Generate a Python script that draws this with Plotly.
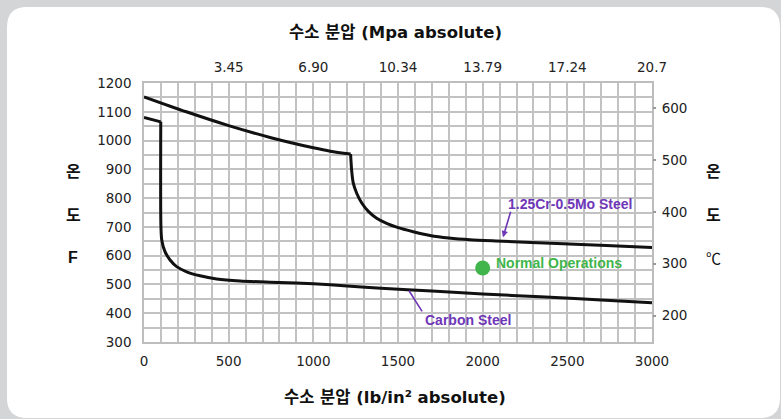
import plotly.graph_objects as go

# ---------------- data ----------------
psi_crmo = [0, 250, 500, 750, 1000, 1100, 1220, 1227, 1236, 1256, 1286, 1325, 1374,
            1433, 1492, 1590, 1689, 1800, 1925, 2120, 2440, 2730, 3000]
temp_crmo = [1152, 1100, 1052, 1010, 975, 963, 953, 892, 852, 817, 783, 754, 730,
             712, 699, 683, 670, 661, 655, 650, 642, 635, 628]

psi_cs = [0, 99, 100, 105, 124, 154, 193, 252, 331, 429, 567, 800, 1000, 1200,
          1400, 1700, 2000, 2340, 2700, 3000]
temp_cs = [1080, 1065, 701, 654, 614, 585, 562, 544, 530, 519, 512, 507, 502, 495,
           487, 477, 467, 457, 446, 436]

normal_psi = [2000]
normal_temp = [557]

psi_ticks = [0, 500, 1000, 1500, 2000, 2500, 3000]
mpa_tickvals = [500, 1000, 1500, 2000, 2500, 3000]
mpa_ticktext = ["3.45", "6.90", "10.34", "13.79", "17.24", "20.7"]
f_ticks = [300, 400, 500, 600, 700, 800, 900, 1000, 1100, 1200]
c_ticks = [200, 300, 400, 500, 600]

# ---------------- layout helpers ----------------
W, H = 781, 419
PL, PR, PT, PB = 144, 652, 83, 342


def pxx(x):
    return (x - PL) / (PR - PL)


def pyy(y):
    return (PB - y) / (PB - PT)


FONT = "Liberation Sans, Arial, Noto Sans CJK KR, sans-serif"
TFONT = "DejaVu Sans, Noto Sans CJK KR, sans-serif"
KFONT = "Noto Sans CJK KR, sans-serif"
PURPLE = "#6f36b8"
GREEN = "#3fb54b"
GRID = "#c2c2c2"
TICKFONT = dict(family="DejaVu Sans, sans-serif", size=13.5, color="#222222")

fig = go.Figure()

LINE = dict(color="#111111", width=3)
SMOOTH = dict(color="#111111", width=3, shape="spline", smoothing=0.8)
# Cr-Mo: smooth upper segment, sharp drop, smooth lower knee
fig.add_trace(go.Scatter(x=psi_crmo[:7], y=temp_crmo[:7], mode="lines",
                         line=SMOOTH, showlegend=False, hoverinfo="skip"))
fig.add_trace(go.Scatter(x=psi_crmo[6:], y=temp_crmo[6:], mode="lines",
                         line=SMOOTH, showlegend=False, hoverinfo="skip"))
# Carbon steel
fig.add_trace(go.Scatter(x=psi_cs[:2], y=temp_cs[:2], mode="lines",
                         line=LINE, showlegend=False, hoverinfo="skip"))
fig.add_trace(go.Scatter(x=psi_cs[1:], y=temp_cs[1:], mode="lines",
                         line=SMOOTH, showlegend=False, hoverinfo="skip"))
fig.add_trace(go.Scatter(x=normal_psi, y=normal_temp, mode="markers",
                         marker=dict(color=GREEN, size=15), showlegend=False,
                         hoverinfo="skip"))
fig.add_trace(go.Scatter(x=[None], y=[None], xaxis="x2", yaxis="y2",
                         showlegend=False, hoverinfo="skip"))

# rounded white panel
x0, x1, y0, y1, r = 7, 780, 7, 418, 20
rx, ry = r / (PR - PL), r / (PB - PT)
X0, X1, Y0, Y1 = pxx(x0), pxx(x1), pyy(y0), pyy(y1)
path = (f"M {X0+rx},{Y0} L {X1-rx},{Y0} Q {X1},{Y0} {X1},{Y0-ry} "
        f"L {X1},{Y1+ry} Q {X1},{Y1} {X1-rx},{Y1} L {X0+rx},{Y1} "
        f"Q {X0},{Y1} {X0},{Y1+ry} L {X0},{Y0-ry} Q {X0},{Y0} {X0+rx},{Y0} Z")
fig.add_shape(type="path", path=path, xref="paper", yref="paper",
              fillcolor="white", line=dict(width=0), layer="below")


def txt(x, y, text, font):
    return dict(x=pxx(x), y=pyy(y), xref="paper", yref="paper", text=text,
                showarrow=False, xanchor="center", yanchor="middle", font=font)


ann = []
# axis titles
ann.append(txt(395, 33, "<b>수소 분압 (Mpa absolute)</b>",
               dict(family=TFONT, size=16.5, color="#111")))
ann.append(txt(395, 397, "<b>수소 분압 (lb/in² absolute)</b>",
               dict(family=TFONT, size=16.5, color="#111")))
for t, yy in [("온", 170), ("도", 214)]:
    ann.append(txt(73, yy, f"<b>{t}</b>", dict(family=KFONT, size=16, color="#111")))
    ann.append(txt(713, yy, f"<b>{t}</b>", dict(family=KFONT, size=16, color="#111")))
ann.append(txt(73, 257, "<b>F</b>", dict(family=FONT, size=16, color="#111")))
ann.append(txt(713, 257, "℃", dict(family=KFONT, size=15, color="#111")))

# series labels
ann.append(dict(x=2516, y=780, xref="x", yref="y", text="<b>1.25Cr-0.5Mo Steel</b>",
                showarrow=False, font=dict(family=FONT, size=14, color=PURPLE)))
ann.append(dict(x=2120, y=664, ax=2168, ay=758, xref="x", yref="y", axref="x",
                ayref="y", text="", showarrow=True, arrowhead=2, arrowsize=0.8,
                arrowwidth=1.6, arrowcolor=PURPLE))
ann.append(dict(x=1911, y=376, xref="x", yref="y", text="<b>Carbon Steel</b>",
                showarrow=False, font=dict(family=FONT, size=14, color=PURPLE)))
ann.append(dict(x=1565, y=478, ax=1648, ay=401, xref="x", yref="y", axref="x",
                ayref="y", text="", showarrow=True, arrowhead=0,
                arrowwidth=1.6, arrowcolor=PURPLE))
ann.append(dict(x=2067, y=575, xref="x", yref="y", text="<b>Normal Operations</b>",
                xanchor="left", showarrow=False,
                font=dict(family=FONT, size=14, color=GREEN)))

fig.update_layout(
    width=W, height=H,
    margin=dict(l=PL, r=W - PR, t=PT, b=H - PB, pad=0),
    paper_bgcolor="#d4d5d7",
    plot_bgcolor="white",
    showlegend=False,
    annotations=ann,
    xaxis=dict(range=[0, 3000], tickvals=psi_ticks, showgrid=True,
               gridcolor=GRID, gridwidth=1.5,
               minor=dict(dtick=100, showgrid=True, gridcolor=GRID, gridwidth=1.5),
               showline=True, linecolor="#bdbdbd", linewidth=1.5, mirror=True,
               zeroline=False, tickfont=TICKFONT, ticks="", ticklabelstandoff=6,
               fixedrange=True),
    yaxis=dict(range=[300, 1200], tickvals=f_ticks, showgrid=True,
               gridcolor=GRID, gridwidth=1.5,
               minor=dict(dtick=50, showgrid=True, gridcolor=GRID, gridwidth=1.5),
               showline=True, linecolor="#bdbdbd", linewidth=1.5, mirror=True,
               zeroline=False, tickfont=TICKFONT, ticks="", ticklabelstandoff=8,
               fixedrange=True),
    xaxis2=dict(overlaying="x", side="top", range=[0, 3000],
                tickvals=mpa_tickvals, ticktext=mpa_ticktext, showgrid=False,
                zeroline=False, showline=False, tickfont=TICKFONT, ticks="",
                ticklabelstandoff=7, fixedrange=True),
    yaxis2=dict(overlaying="y", side="right",
                range=[(300 - 32) / 1.8, (1200 - 32) / 1.8],
                tickvals=c_ticks, showgrid=False, zeroline=False, showline=False,
                tickfont=TICKFONT, ticks="outside", ticklen=3, tickwidth=2,
                tickcolor="#9a9a9a", ticklabelstandoff=3, fixedrange=True),
)

fig.write_html("out.html", config={"displayModeBar": False},
               post_script="document.body.style.margin='0';")
